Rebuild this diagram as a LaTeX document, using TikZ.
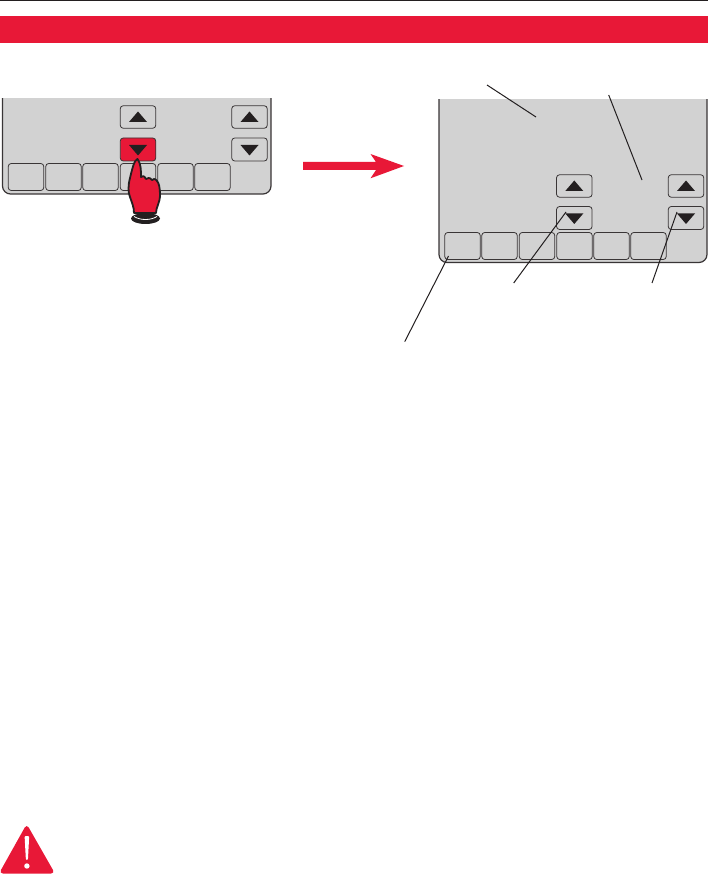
\documentclass[tikz,border=0pt]{standalone}
\usetikzlibrary{calc}
\definecolor{hred}{HTML}{E81837}
\definecolor{pgrey}{HTML}{D2D2D2}
\definecolor{ink}{HTML}{231F20}
\tikzset{
  panel/.style={draw=ink!90!white,line width=1.2pt},
  softkey/.style={draw=ink!90!white,fill=pgrey,line width=.8pt,rounded corners=3pt,inner sep=0pt,minimum width=35.5pt,minimum height=27pt},
  arrowkey/.style={draw=ink!90!white,fill=pgrey,line width=.8pt,rounded corners=3pt,inner sep=0pt,minimum width=35.5pt,minimum height=22.5pt},
  arrowkeyon/.style={arrowkey,fill=hred},
  glyph/.style={fill=ink,draw=none},
  leader/.style={draw=ink,line width=1pt},
}
\newcommand{\upglyph}[1]{\fill[glyph] ($(#1)+(-9,5)$) -- ($(#1)+(9,5)$) -- ($(#1)+(0,-5.5)$) -- cycle;}
\newcommand{\downglyph}[1]{\fill[glyph] ($(#1)+(-9,-4.5)$) -- ($(#1)+(9,-4.5)$) -- ($(#1)+(0,6)$) -- cycle;}
\begin{document}
\begin{tikzpicture}[x=1pt,y=-1pt]
\useasboundingbox (0,0) rectangle (708,874);
\fill[white] (0,0) rectangle (708,874);
% header
\fill[ink] (0,0) rectangle (708,1.2);
\fill[hred] (0,16) rectangle (708,43);
% left panel
\fill[pgrey,rounded corners=8pt] (2.5,90) -- (2.5,194) -- (271,194) -- (271,90) -- cycle;
\draw[panel,rounded corners=8pt] (2.5,98) -- (2.5,194) -- (271,194) -- (271,98);
\fill[white] (0,80) rectangle (280,98);
\node[arrowkey] (lu1) at (138,117) {};
\node[arrowkeyon,minimum height=23pt] (ld1) at (138,149.5) {};
\node[arrowkey] (lu2) at (249.5,117) {};
\node[arrowkey,minimum height=23pt] (ld2) at (249.5,149.5) {};
\upglyph{lu1}\downglyph{ld1}\upglyph{lu2}\downglyph{ld2}
\foreach \n/\x in {a/26,b/63.5,c/100.5,d/138,e/175.5,f/212.5}
  \node[softkey] (l\n) at (\x,177) {};
% hand
\filldraw[fill=hred,draw=ink,line width=1.8pt,line join=round]
  (137.5,159) .. controls (134,160) and (132,170) .. (130,178)
  .. controls (128,186) and (128,192) .. (130,197)
  .. controls (132,203) and (134,207) .. (134,213)
  -- (156,213)
  .. controls (156,207) and (160,203) .. (160,195)
  .. controls (160,188) and (159,183) .. (157,181)
  .. controls (155,178) and (153,179) .. (152,180)
  .. controls (150,177) and (147,178) .. (146,179)
  .. controls (144,175) and (142,176) .. (141,177)
  .. controls (141,170) and (141,164) .. (137.5,159) -- cycle;
\fill[ink] (145.5,218.5) ellipse[x radius=14.5,y radius=5.5];
\draw[white,line width=.8pt] (134,216.5) .. controls (140,220.5) and (151,220.5) .. (157,216.5);
% arrow
\fill[hred] (303,162) -- (376,162) -- (370.5,154) -- (404,166) -- (370.5,178.3) -- (376,170) -- (303,170) -- cycle;
% right panel
\fill[pgrey,rounded corners=8pt] (439,90) -- (439,262.5) -- (707,262.5) -- (707,90) -- cycle;
\draw[panel,rounded corners=8pt] (439,99) -- (439,262.5) -- (707,262.5) -- (707,99);
\fill[white] (430,80) rectangle (708,99);
\node[arrowkey] (ru1) at (574.3,186) {};
\node[arrowkey,minimum height=23pt] (rd1) at (574.3,218) {};
\node[arrowkey] (ru2) at (686,186) {};
\node[arrowkey,minimum height=23pt] (rd2) at (686,218) {};
\upglyph{ru1}\downglyph{rd1}\upglyph{ru2}\downglyph{rd2}
\foreach \n/\x in {a/462.5,b/499.5,c/537,d/574.5,e/611.5,f/648.5}
  \node[softkey] (r\n) at (\x,246) {};
% leaders
\coordinate (t1a) at (487,85);
\coordinate (t1b) at (536,117);
\coordinate (t2a) at (608.7,95);
\coordinate (t2b) at (642,180);
\coordinate (t3a) at (513.7,283);
\coordinate (t3b) at (566,212);
\coordinate (t4a) at (652,283);
\coordinate (t4b) at (677,212);
\coordinate (t5a) at (404.7,341.7);
\coordinate (t5b) at (448.5,256);
\draw[leader] (t1a) -- (t1b);
\draw[leader] (t2a) -- (t2b);
\draw[leader] (t3a) -- (t3b);
\draw[leader] (t4a) -- (t4b);
\draw[leader] (t5a) -- (t5b);
% warning
\fill[hred,rounded corners=4pt] (26.7,824) -- (55,873.5) -- (-1,873.5) -- cycle;
\fill[white,rounded corners=1pt] (24.6,836) -- (29.2,836) -- (27.9,860) -- (25.9,860) -- cycle;
\fill[white] (26.9,866) circle[radius=2.7];
\end{tikzpicture}
\end{document}
